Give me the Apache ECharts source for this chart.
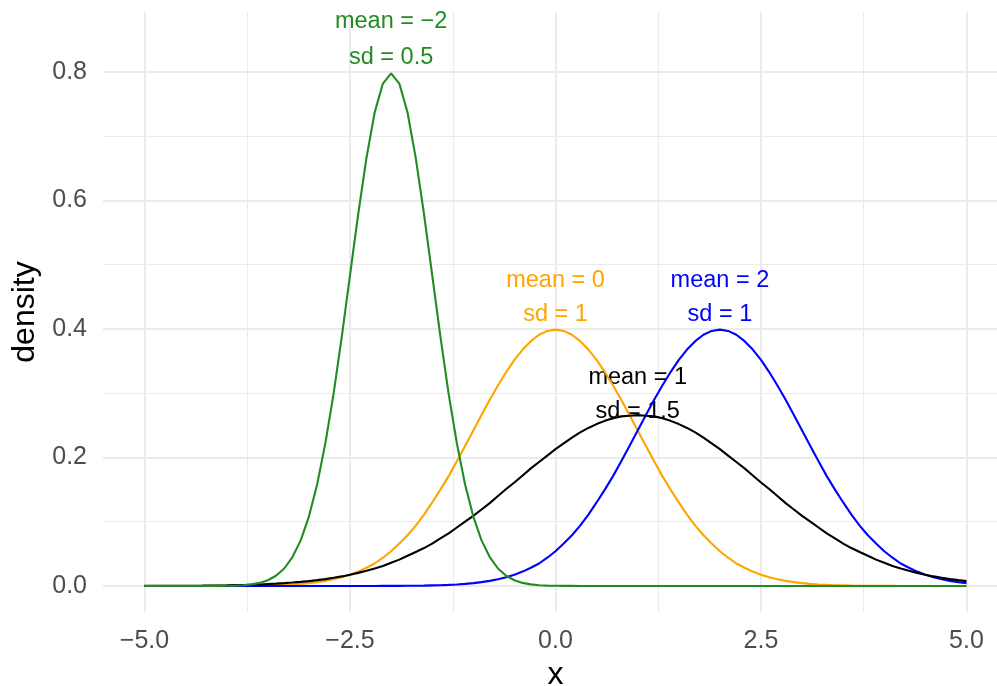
<!DOCTYPE html>
<html>
<head>
<meta charset="utf-8">
<script src="https://cdn.jsdelivr.net/npm/echarts@6/dist/echarts.min.js"></script>
<style>
  html, body { margin: 0; padding: 0; background: #fff; }
  #chart { width: 997px; height: 686px; }
</style>
</head>
<body>
<div id="chart"></div>
<script>
// x grid of the curves
const xs = [-5.0,-4.9,-4.8,-4.7,-4.6,-4.5,-4.4,-4.3,-4.2,-4.1,-4.0,-3.9,-3.8,-3.7,-3.6,-3.5,-3.4,-3.3,-3.2,-3.1,
  -3.0,-2.9,-2.8,-2.7,-2.6,-2.5,-2.4,-2.3,-2.2,-2.1,-2.0,-1.9,-1.8,-1.7,-1.6,-1.5,-1.4,-1.3,-1.2,-1.1,
  -1.0,-0.9,-0.8,-0.7,-0.6,-0.5,-0.4,-0.3,-0.2,-0.1,0.0,0.1,0.2,0.3,0.4,0.5,0.6,0.7,0.8,0.9,
  1.0,1.1,1.2,1.3,1.4,1.5,1.6,1.7,1.8,1.9,2.0,2.1,2.2,2.3,2.4,2.5,2.6,2.7,2.8,2.9,
  3.0,3.1,3.2,3.3,3.4,3.5,3.6,3.7,3.8,3.9,4.0,4.1,4.2,4.3,4.4,4.5,4.6,4.7,4.8,4.9,5.0];

// density values
const yOrange = [0,0,0,0,0,0,0,0,0,0.0001,0.0001,0.0002,0.0003,0.0004,
  0.0006,0.0009,0.0012,0.0017,0.0024,0.0033,0.0044,0.0060,0.0079,0.0104,0.0136,0.0175,0.0224,0.0283,0.035,0.044,0.054,0.066,
  0.079,0.094,0.111,0.130,0.150,0.171,0.194,0.218,0.242,0.266,0.290,0.312,0.333,0.352,0.368,0.381,0.391,0.397,
  0.399,
  0.397,0.391,0.381,0.368,0.352,0.333,0.312,0.290,0.266,0.242,0.218,0.194,0.171,0.150,0.130,0.111,0.094,0.079,
  0.066,0.054,0.044,0.035,0.0283,0.0224,0.0175,0.0136,0.0104,0.0079,0.0060,0.0044,0.0033,0.0024,0.0017,0.0012,0.0009,0.0006,
  0.0004,0.0003,0.0002,0.0001,0.0001,0,0,0,0,0,0,0,0,0];

const yBlue = [0,0,0,0,0,0,0,0,0,0,0,0,0,0,0,0,0,0,0,0,0,0,0,0,0,0,0,0,0,0.0001,0.0001,0.0002,0.0003,0.0004,
  0.0006,0.0009,0.0012,0.0017,0.0024,0.0033,0.0044,0.0060,0.0079,0.0104,0.0136,0.0175,0.0224,0.0283,0.035,0.044,0.054,0.066,
  0.079,0.094,0.111,0.130,0.150,0.171,0.194,0.218,0.242,0.266,0.290,0.312,0.333,0.352,0.368,0.381,0.391,0.397,
  0.399,
  0.397,0.391,0.381,0.368,0.352,0.333,0.312,0.290,0.266,0.242,0.218,0.194,0.171,0.150,0.130,0.111,0.094,0.079,
  0.066,0.054,0.044,0.035,0.0283,0.0224,0.0175,0.0136,0.0104,0.0079,0.0060,0.0044];

const yBlack = [0.0001,0.0001,0.0002,0.0002,0.0003,0.0003,0.0004,0.0005,0.0007,0.0008,0.0010,0.0013,0.0016,0.0020,
  0.0024,0.0030,0.0036,0.0044,0.0053,0.0064,0.0076,0.0091,0.0107,0.0127,0.0149,0.0175,0.0204,0.0237,0.0273,
  0.031,0.036,0.041,0.047,0.053,0.059,0.066,0.074,0.082,0.091,0.100,0.109,0.119,0.129,
  0.140,0.151,0.161,0.172,0.183,0.193,0.203,
  0.213,0.222,0.231,0.239,0.246,0.252,0.257,0.261,0.264,0.265,0.266,0.265,0.264,0.261,0.257,0.252,0.246,0.239,
  0.231,0.222,0.213,0.203,0.193,0.183,0.172,0.161,0.151,0.140,0.129,0.119,0.109,0.100,0.091,0.082,0.074,0.066,
  0.059,0.053,0.047,0.041,0.036,0.031,0.0273,0.0237,0.0204,0.0175,0.0149,0.0127,0.0107,0.0091,0.0076];

const yGreen = [0,0,0,0,0,0,0,0,0.0001,0.0001,0.0003,
  0.0006,0.0012,0.0025,0.0048,0.0089,0.0159,0.0272,0.045,0.071,0.108,0.158,0.222,0.299,0.388,0.484,0.579,0.666,0.737,0.782,
  0.798,
  0.782,0.737,0.666,0.579,0.484,0.388,0.299,0.222,0.158,0.108,0.071,0.045,0.0272,0.0159,0.0089,0.0048,0.0025,0.0012,0.0006,
  0.0003,0.0001,0.0001,0,0,0,0,0,0,0,0,0,0,0,0,0,0,0,0,0,0,0,0,0,0,0,0,0,0,0,0,0,0,0,0,0,0,0,0,0,0,0,0,0,0,0,0,0,0,0,0];

// annotations
const annX = [-2, 0, 2, 1];
const annMean = ['mean = \u22122', 'mean = 0', 'mean = 2', 'mean = 1'];
const annSd = ['sd = 0.5', 'sd = 1', 'sd = 1', 'sd = 1.5'];
const annMeanY = [0.878, 0.475, 0.475, 0.325];
const annSdY = [0.822, 0.422, 0.422, 0.271];
const annColor = ['#228B22', '#FFA500', '#0000FF', '#000000'];

// axis ticks
const xTicks = [-5, -2.5, 0, 2.5, 5];
const xMinor = [-3.75, -1.25, 1.25, 3.75];
const yTicks = [0, 0.2, 0.4, 0.6, 0.8];
const yMinor = [0.1, 0.3, 0.5, 0.7];

const chart = echarts.init(document.getElementById('chart'));
const font = '"Liberation Sans", Arial, sans-serif';
const pairs = (ys) => xs.map((x, i) => [x, ys[i]]);
const fmt = (v) => Number(v).toFixed(1).replace('-', '\u2212');

const major = { color: '#EBEBEB', width: 2, type: 'solid' };
const minor = { color: '#EBEBEB', width: 1.1, type: 'solid' };
const gridLines = []
  .concat(yMinor.map((v) => ({ yAxis: v, lineStyle: minor })))
  .concat(xMinor.map((v) => ({ xAxis: v, lineStyle: minor })))
  .concat(yTicks.map((v) => ({ yAxis: v, lineStyle: major })))
  .concat(xTicks.map((v) => ({ xAxis: v, lineStyle: major })));

const annData = [];
annX.forEach((x, i) => {
  annData.push({ name: annMean[i], value: [x, annMeanY[i]], label: { color: annColor[i] } });
  annData.push({ name: annSd[i], value: [x, annSdY[i]], label: { color: annColor[i] } });
});

const line = (name, ys, color) => ({
  name: name,
  type: 'line',
  data: pairs(ys),
  showSymbol: false,
  symbol: 'none',
  smooth: false,
  lineStyle: { color: color, width: 2.1 },
  z: 10,
});

const option = {
  animation: false,
  backgroundColor: '#fff',
  grid: { left: 103, right: -11, top: 12, bottom: 74, containLabel: false, outerBoundsMode: 'none' },
  xAxis: {
    type: 'value',
    min: -5.505,
    max: 5.505,
    axisLine: { show: false },
    axisTick: { show: false },
    splitLine: { show: false },
    axisLabel: {
      customValues: xTicks,
      formatter: fmt,
      color: '#4D4D4D',
      fontSize: 25,
      fontFamily: font,
      margin: 17,
    },
    name: 'x',
    nameLocation: 'middle',
    nameGap: 47,
    nameTextStyle: { color: '#000', fontSize: 32, fontFamily: font },
  },
  yAxis: {
    type: 'value',
    min: -0.0405,
    max: 0.8934,
    axisLine: { show: false },
    axisTick: { show: false },
    splitLine: { show: false },
    axisLabel: {
      customValues: yTicks,
      formatter: fmt,
      color: '#4D4D4D',
      fontSize: 25,
      fontFamily: font,
      margin: 16,
    },
    name: 'density',
    nameLocation: 'middle',
    nameRotate: 90,
    nameGap: 62,
    nameTextStyle: { color: '#000', fontSize: 32, fontFamily: font },
  },
  series: [
    {
      name: 'grid',
      type: 'line',
      data: [],
      silent: true,
      z: 1,
      markLine: {
        silent: true,
        z: 1,
        symbol: ['none', 'none'],
        label: { show: false },
        emphasis: { disabled: true },
        data: gridLines,
      },
    },
    {
      name: 'labels',
      type: 'scatter',
      data: annData,
      symbolSize: 0,
      silent: true,
      z: 5,
      itemStyle: { opacity: 1 },
      label: {
        show: true,
        position: [0, 0],
        align: 'center',
        verticalAlign: 'middle',
        formatter: '{b}',
        fontSize: 23.5,
        fontFamily: font,
        opacity: 1,
        textBorderWidth: 0,
      },
    },
    line('mean 0, sd 1', yOrange, '#FFA500'),
    line('mean 2, sd 1', yBlue, '#0000FF'),
    line('mean 1, sd 1.5', yBlack, '#000000'),
    line('mean -2, sd 0.5', yGreen, '#228B22'),
  ],
};
chart.setOption(option);
</script>
</body>
</html>
